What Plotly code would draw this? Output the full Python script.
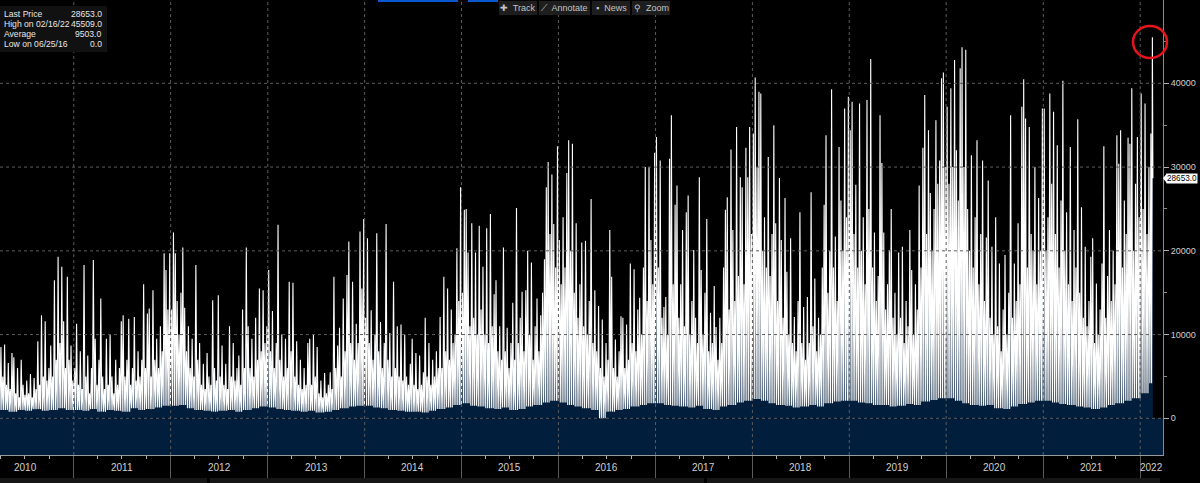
import plotly.graph_objects as go
import pandas as pd

# ---------------- data (values in thousands) ----------------
peaks_2010 = [8.5, 5, 8.8, 4, 6.6, 3.5, 7.8, 7.3, 3, 6, 2.5, 7, 4, 2.8, 4.5, 3, 5.3, 2.5, 4.8, 3.5,
              9.2, 4, 12.3, 5, 11.6, 4.5, 6, 8.7, 5, 16.5, 7, 19.3, 9, 18.1, 11.6, 6, 16.9, 7, 8.7, 4.5]
peaks_2011 = [6, 11.3, 4, 8, 3.5, 18.3, 5, 7.5, 3, 6, 18.9, 9.5, 4, 7, 14.3, 5, 3.5, 9.5, 4, 10,
              5, 3, 7, 4, 6, 11.6, 12.3, 5, 7, 11.9, 4, 6, 12.1, 4.5, 8, 5, 7, 16, 6, 12.5,
              13.1, 5, 15.3, 7, 9.5, 6, 11, 8, 19.7, 17.7, 13, 19.7]
peaks_2012 = [13, 22.2, 19.7, 14, 10, 15, 20.4, 13.2, 8, 11, 6, 9.5, 5, 18.3, 7, 9, 4, 6.5, 3.5, 7.8,
              5, 4, 14.1, 6, 4.5, 14.7, 5, 8.7, 4, 6.5, 3.5, 11, 5, 9, 4.5, 6, 7.5, 4, 13, 6,
              20.4, 11, 6, 9.5, 5, 12, 7, 15.5, 8, 15.3, 9, 11]
peaks_2013 = [17.7, 8, 12.8, 6, 9, 23.1, 7, 10, 5, 9.5, 6, 16.3, 8, 16.2, 5, 9.2, 4, 7, 3.5, 6,
              4, 9, 9.5, 4, 10, 5, 8.5, 3, 4.5, 2.5, 5.4, 3, 4, 5.5, 3.5, 16.9, 6, 8.7, 10.8, 5,
              14.3, 8, 17.1, 21.1, 9, 16.3, 7, 11.3, 9, 22.3, 15.5, 23.8]
peaks_2014 = [12, 21.5, 9, 12.9, 7, 10, 22.1, 8, 11.5, 6, 9, 23.2, 7, 10.2, 5, 16.3, 6, 11, 5, 11.2,
              4.5, 10, 5, 4, 6.5, 9.5, 4, 7.8, 3.5, 7.5, 4, 5.5, 12, 5, 9, 4, 7, 5, 8, 6,
              12.1, 6, 16.9, 8, 15.5, 7, 13, 9, 10, 20.3, 14, 27.6]
peaks_2015 = [15, 24.9, 25, 19.8, 11, 23.3, 12, 19.8, 10, 23, 13, 18.1, 10, 22.7, 9, 24.4, 11, 14.8, 16.5, 8,
              11, 7, 20.4, 8, 10.8, 6, 9, 13.8, 7, 25.1, 9, 12, 15.1, 8, 15.3, 20, 10, 18.6, 7, 11,
              14.3, 8, 12.3, 15, 19, 27.6, 30.6, 22, 29.1, 23.2, 18, 32.5]
peaks_2016 = [21.3, 16, 24, 18, 29.3, 33.2, 20, 32.8, 15, 23.3, 12, 16, 21, 11, 21.2, 10, 14, 26.2, 9, 15.3,
              8, 13.4, 6, 11.8, 5, 9, 7, 22.5, 16.9, 6, 9.4, 5, 8, 12.2, 12, 6, 11.2, 7, 18.5, 9,
              17.8, 8, 13, 14.4, 10, 18, 30, 14, 30, 21.3, 16, 31.7]
peaks_2017 = [33.6, 18, 30.8, 12, 13.3, 14.5, 10, 31, 36.2, 16, 25.5, 27.8, 12, 16, 22.5, 11, 24.6, 26.6, 10, 14,
              20.1, 12, 9, 28.8, 17.7, 10, 15, 23.8, 8, 12.6, 9, 15.8, 10.9, 7, 12, 9, 18, 24.9, 26.4, 13,
              32.1, 22.5, 14, 34.8, 17, 28.8, 27.6, 16, 32.3, 28.8, 34.8, 22]
peaks_2018 = [34, 40.7, 30, 39, 38.8, 20, 24, 18, 31.2, 17, 22, 35, 23.3, 14, 28.7, 21.3, 12, 26.3, 17.5, 10,
              21.5, 9, 12.1, 8, 14, 24.6, 9, 13.3, 7, 14.5, 9, 27, 11, 16.7, 8, 12, 10, 18, 25.5, 33.8,
              15, 20, 39.3, 18, 21.7, 14, 32.4, 26, 20, 37, 24, 38.4]
peaks_2019 = [34.4, 37.8, 22, 27.9, 18, 37.6, 20, 24, 16, 38, 25, 42.9, 18, 22.2, 14, 17, 36.2, 30.5, 22.2, 13,
              16, 20.1, 25, 12, 15, 10, 19.8, 12, 20.5, 9, 14, 11, 22.5, 17.7, 10, 16, 13, 27.8, 18, 32.3,
              38.6, 22, 34.4, 26.9, 20, 25, 35.6, 28, 30.8, 40.6, 41.3, 30]
peaks_2020 = [37.2, 28, 39.4, 30, 42.8, 32, 26, 41.8, 44.3, 30, 44, 25, 20, 31.4, 18, 24, 33.2, 16, 22, 30.8,
              14, 21.6, 28.4, 12, 20.5, 10, 24, 11, 18.5, 8, 13, 19.5, 10, 15, 36.2, 12, 18.5, 14, 23.3, 16,
              37.2, 40.5, 35.8, 18, 34.8, 22, 20, 30, 16, 26.3, 20, 37]
peaks_2021 = [37, 20, 24, 38.8, 28, 36.6, 22, 32.6, 18, 26, 40.3, 20, 24.6, 16, 32.4, 14, 22.5, 18, 35.7, 15,
              25.2, 12, 20.5, 11, 14, 19.3, 21.5, 9, 16.1, 10, 13, 18.5, 32.5, 12, 17, 22.5, 14, 20, 16, 33.8,
              30.4, 34.4, 18, 26, 22, 33.5, 32.8, 39.4, 20, 28, 33.6, 24]
peaks_2022 = [38.8, 25, 37.6, 22, 30, 34]

# monthly troughs (thousands); 2010 starts in April, 2022 covers Jan-Feb
lows_2010 = [1.0, 0.8, 1.0, 0.9, 1.1, 0.9, 1.0, 1.2, 1.0]
lows_2011 = [1.0, 0.9, 1.1, 0.8, 1.0, 0.9, 0.8, 1.2, 1.0, 1.1, 1.3, 1.5]
lows_2012 = [1.5, 1.6, 1.2, 1.0, 0.9, 0.8, 0.9, 1.0, 0.8, 1.0, 1.2, 1.4]
lows_2013 = [1.3, 1.1, 1.0, 0.9, 0.8, 0.9, 0.7, 0.8, 1.0, 1.2, 1.4, 1.5]
lows_2014 = [1.5, 1.3, 1.2, 1.0, 0.9, 0.8, 0.8, 0.7, 0.9, 1.1, 1.3, 1.6]
lows_2015 = [1.8, 1.5, 1.4, 1.2, 1.1, 1.3, 1.0, 1.1, 1.4, 1.6, 1.9, 2.1]
lows_2016 = [1.9, 1.6, 1.4, 1.2, 1.0, 0.0, 0.8, 1.0, 1.1, 1.4, 1.6, 1.8]
lows_2017 = [1.8, 1.6, 1.5, 1.4, 1.3, 1.5, 1.1, 1.0, 1.4, 1.6, 1.9, 2.1]
lows_2018 = [2.3, 2.1, 1.8, 1.6, 1.5, 1.3, 1.4, 1.6, 1.4, 1.8, 2.0, 2.1]
lows_2019 = [2.1, 1.9, 1.8, 1.6, 1.6, 1.4, 1.5, 1.7, 1.6, 2.0, 2.2, 2.4]
lows_2020 = [2.4, 2.1, 1.8, 1.6, 1.5, 1.6, 1.2, 1.1, 1.4, 1.7, 1.9, 2.1]
lows_2021 = [2.1, 1.9, 1.7, 1.6, 1.4, 1.3, 1.1, 1.3, 1.6, 1.8, 2.1, 2.4]
lows_2022 = [3.0, 4.2]

data_start = "2010-03-29"
weekly_end_2022 = "2022-02-14"
high_date, high_value = "2022-02-16", 45509
last_date, last_value = "2022-02-18", 28653

stat_labels = ["Last Price", "High on 02/16/22", "Average", "Low on 06/25/16"]
stat_values = ["28653.0", "45509.0", "9503.0", "0.0"]

year_labels = ["2010", "2011", "2012", "2013", "2014", "2015", "2016",
               "2017", "2018", "2019", "2020", "2021", "2022"]
y_ticks = [0, 10000, 20000, 30000, 40000]
toolbar_items = ["✚  Track", "⟋  Annotate", "▪  News", "⚲  Zoom"]

# ---------------- build the series ----------------
peaks = {2010: peaks_2010, 2011: peaks_2011, 2012: peaks_2012, 2013: peaks_2013, 2014: peaks_2014,
         2015: peaks_2015, 2016: peaks_2016, 2017: peaks_2017, 2018: peaks_2018, 2019: peaks_2019,
         2020: peaks_2020, 2021: peaks_2021, 2022: peaks_2022}
lows = {2010: lows_2010, 2011: lows_2011, 2012: lows_2012, 2013: lows_2013, 2014: lows_2014,
        2015: lows_2015, 2016: lows_2016, 2017: lows_2017, 2018: lows_2018, 2019: lows_2019,
        2020: lows_2020, 2021: lows_2021, 2022: lows_2022}
first_month = {2010: 4}

dates = [pd.Timestamp(data_start)]
values = [lows_2010[0] * 1000]
for yr in sorted(peaks):
    s = max(pd.Timestamp(f"{yr}-01-01"), pd.Timestamp(data_start))
    e = pd.Timestamp(f"{yr + 1}-01-01") if yr < 2022 else pd.Timestamp(weekly_end_2022)
    n = len(peaks[yr])
    step = (e - s) / n
    fm = first_month.get(yr, 1)
    for i, p in enumerate(peaks[yr]):
        tp = s + step * (i + 0.5)
        tl = min(s + step * (i + 1), e - pd.Timedelta(days=1))
        idx = min(max(tl.month - fm, 0), len(lows[yr]) - 1)
        dates += [tp, tl]
        values += [p * 1000, lows[yr][idx] * 1000]
dates += [pd.Timestamp(high_date), pd.Timestamp(last_date)]
values += [high_value, last_value]

# ---------------- figure ----------------
PLOT_W, PLOT_H = 1163, 455
NAVY = "#011e3c"
GRID = "#5c5c5c"
X_RANGE = ["2010-03-29", "2022-03-28"]
Y_RANGE = [-4380, 49950]
FONT = "Liberation Sans, Arial, sans-serif"


def px(X):
    return X / PLOT_W


def py(Y):
    return 1 - Y / PLOT_H


fig = go.Figure()
fig.add_trace(go.Scatter(x=dates, y=values, mode="lines",
                         line=dict(color="#ffffff", width=1.1),
                         fill="tozeroy", fillcolor=NAVY, hoverinfo="skip"))

shapes = []
shapes.append(dict(type="rect", xref="paper", yref="y", x0=0, x1=1, y0=Y_RANGE[0], y1=0,
                   fillcolor=NAVY, line=dict(width=0), layer="below"))
for lab in year_labels[1:]:
    shapes.append(dict(type="line", xref="x", yref="paper", x0=f"{lab}-01-01", x1=f"{lab}-01-01",
                       y0=0, y1=1, line=dict(color=GRID, width=1, dash="dot"), layer="above"))
for v in y_ticks:
    shapes.append(dict(type="line", xref="paper", yref="y", x0=0, x1=1, y0=v, y1=v,
                       line=dict(color=GRID, width=1, dash="dot"), layer="above"))
shapes.append(dict(type="rect", xref="paper", yref="paper", x0=px(0), x1=px(107), y0=py(52), y1=py(6),
                   fillcolor="#111111", line=dict(width=0), layer="above"))
tool_boxes = [(499, 537), (539, 590), (592, 630), (632, 670)]
for (a, b) in tool_boxes:
    shapes.append(dict(type="rect", xref="paper", yref="paper", x0=px(a), x1=px(b), y0=py(15), y1=py(1),
                       fillcolor="#1e1e1e", line=dict(width=0), layer="above"))
for (a, b) in [(378, 458), (468, 498)]:
    shapes.append(dict(type="rect", xref="paper", yref="paper", x0=px(a), x1=px(b), y0=py(2), y1=py(0),
                       fillcolor="#0b57d0", line=dict(width=0), layer="above"))
for (a, b) in [(0, 207), (210, 704), (707, 1160)]:
    shapes.append(dict(type="rect", xref="paper", yref="paper", x0=px(a), x1=px(b), y0=py(483), y1=py(478),
                       fillcolor="#161616", line=dict(width=0), layer="above"))
shapes.append(dict(type="circle", xref="paper", yref="paper", x0=px(1133), x1=px(1167),
                   y0=py(58), y1=py(26), line=dict(color="#e8141c", width=2.5), layer="above"))
yl = 418.3 - last_value / 10000 * 83.75
shapes.append(dict(type="path", xref="paper", yref="paper",
                   path=f"M {px(1163)} {py(yl)} L {px(1167)} {py(yl - 5)} L {px(1167)} {py(yl + 5)} Z",
                   fillcolor="white", line=dict(width=0), layer="above"))

annotations = []
for i, (lab, val) in enumerate(zip(stat_labels, stat_values)):
    yy = py(14 + 10 * i)
    annotations.append(dict(xref="paper", yref="paper", x=px(1.5), y=yy, text=lab, showarrow=False,
                            xanchor="left", yanchor="middle", font=dict(size=8.6, color="#e6e6e6", family=FONT)))
    annotations.append(dict(xref="paper", yref="paper", x=px(104), y=yy, text=val, showarrow=False,
                            xanchor="right", yanchor="middle", font=dict(size=8.6, color="#e6e6e6", family=FONT)))
for (a, b), t in zip(tool_boxes, toolbar_items):
    annotations.append(dict(xref="paper", yref="paper", x=px((a + b) / 2), y=py(8), text=t, showarrow=False,
                            xanchor="center", yanchor="middle", font=dict(size=9, color="#c4c4c4", family=FONT)))
for lab in year_labels:
    xd = f"{lab}-07-02" if lab != "2022" else "2022-02-13"
    annotations.append(dict(xref="x", yref="paper", x=xd, y=py(468), text=lab, showarrow=False,
                            xanchor="center", yanchor="middle",
                            font=dict(size=10, color="#d0d0d0",
                                      family="Liberation Sans Narrow, Arial Narrow, Liberation Sans, Arial")))
annotations.append(dict(xref="paper", yref="y", x=1, y=last_value, text=f"{last_value:.1f}", showarrow=False,
                        xanchor="left", yanchor="middle", xshift=3, bgcolor="white", borderpad=0,
                        font=dict(size=8.2, color="black", family=FONT)))

fig.update_layout(
    width=1200, height=483,
    margin=dict(l=0, r=37, t=0, b=28, autoexpand=False),
    paper_bgcolor="black", plot_bgcolor="black",
    showlegend=False,
    font=dict(family=FONT, size=9, color="#d0d0d0"),
    shapes=shapes, annotations=annotations,
    xaxis=dict(type="date", range=X_RANGE, showgrid=False, zeroline=False,
               showline=True, linecolor="#9a9a9a", linewidth=1,
               tick0="2011-01-01", dtick="M12", ticks="outside", ticklen=22,
               tickcolor="#5a5a5a", tickwidth=1, showticklabels=False,
               minor=dict(ticks="outside", ticklen=3, dtick="M3", tick0="2011-01-01",
                          tickcolor="#b0b0b0", showgrid=False)),
    yaxis=dict(side="right", range=Y_RANGE, showgrid=False, zeroline=False,
               showline=True, linecolor="#8a8a8a", linewidth=1,
               tick0=0, dtick=10000, ticks="outside", ticklen=5, tickcolor="#b0b0b0",
               tickformat="d", exponentformat="none",
               tickfont=dict(size=9, color="#d0d0d0", family=FONT),
               minor=dict(ticks="outside", ticklen=3, dtick=5000, tickcolor="#8a8a8a", showgrid=False)),
)

fig.write_html("out.html", config={"displayModeBar": False},
               post_script="document.body.style.margin='0';document.body.style.padding='0';"
                           "document.body.style.overflow='hidden';document.body.style.background='black';")
